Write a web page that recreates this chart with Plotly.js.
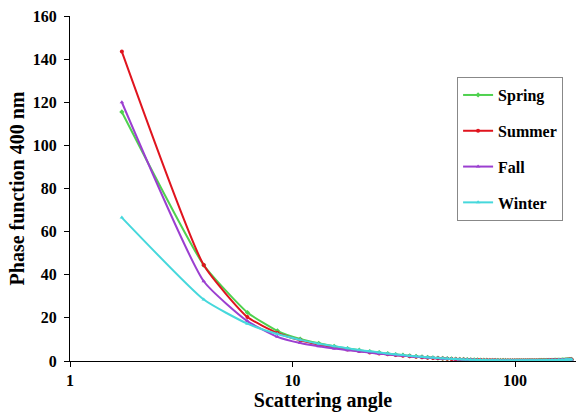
<!DOCTYPE html>
<html>
<head>
<meta charset="utf-8">
<script src="https://cdn.plot.ly/plotly-3.0.1.min.js"></script>
<style>html,body{margin:0;padding:0;background:#fff;}#chart{width:579px;height:412px;}</style>
</head>
<body>
<div id="chart"></div>
<script>
const angles = [
  1.71, 3.99, 6.27, 8.55, 10.83, 13.11, 15.39, 17.67, 19.95, 22.23,
  24.51, 26.79, 29.07, 31.35, 33.63, 35.91, 38.19, 40.47, 42.75, 45.03,
  47.31, 49.59, 51.87, 54.15, 56.43, 58.71, 60.99, 63.27, 65.55, 67.83,
  70.11, 72.39, 74.67, 76.95, 79.23, 81.51, 83.79, 86.07, 88.35, 90.63,
  92.91, 95.19, 97.47, 99.75, 102.03, 104.31, 106.59, 108.87, 111.15, 113.43,
  115.71, 117.99, 120.27, 122.55, 124.83, 127.11, 129.39, 131.67, 133.95, 136.23,
  138.51, 140.79, 143.07, 145.35, 147.63, 149.91, 152.19, 154.47, 156.75, 159.03,
  161.31, 163.59, 165.87, 168.15, 170.43, 172.71, 174.99, 177.27, 179.55
];
const spring = [
  115.5, 44.5, 22.5, 14.0, 10.2, 8.2, 6.8, 5.8, 5.0, 4.4,
  3.9, 3.4, 3.0, 2.7, 2.4, 2.1, 1.9, 1.7, 1.5, 1.35,
  1.2, 1.08, 0.97, 0.88, 0.8, 0.72, 0.65, 0.59, 0.54, 0.49,
  0.45, 0.41, 0.38, 0.35, 0.33, 0.31, 0.29, 0.27, 0.26, 0.25,
  0.24, 0.23, 0.22, 0.22, 0.21, 0.21, 0.21, 0.21, 0.21, 0.21,
  0.21, 0.22, 0.22, 0.23, 0.23, 0.24, 0.25, 0.26, 0.27, 0.28,
  0.29, 0.3, 0.31, 0.33, 0.34, 0.36, 0.38, 0.4, 0.42, 0.44,
  0.46, 0.49, 0.52, 0.55, 0.58, 0.62, 0.66, 0.7, 0.75
];
const summer = [
  143.5, 44.5, 20.4, 13.0, 9.6, 7.6, 6.3, 5.3, 4.6, 4.0,
  3.5, 3.1, 2.75, 2.45, 2.2, 1.95, 1.75, 1.55, 1.4, 1.25,
  1.12, 1.0, 0.9, 0.82, 0.74, 0.67, 0.61, 0.55, 0.5, 0.46,
  0.42, 0.39, 0.36, 0.33, 0.31, 0.29, 0.27, 0.26, 0.25, 0.24,
  0.23, 0.22, 0.21, 0.21, 0.2, 0.2, 0.2, 0.2, 0.2, 0.2,
  0.2, 0.21, 0.21, 0.22, 0.22, 0.23, 0.24, 0.25, 0.26, 0.27,
  0.28, 0.29, 0.3, 0.32, 0.33, 0.35, 0.37, 0.39, 0.41, 0.43,
  0.45, 0.48, 0.51, 0.54, 0.57, 0.61, 0.65, 0.69, 0.74
];
const fall = [
  120.0, 37.0, 18.5, 11.2, 8.3, 6.8, 5.8, 5.0, 4.4, 3.9,
  3.4, 3.0, 2.7, 2.4, 2.15, 1.9, 1.7, 1.52, 1.36, 1.22,
  1.1, 0.99, 0.89, 0.81, 0.73, 0.66, 0.6, 0.55, 0.5, 0.46,
  0.42, 0.39, 0.36, 0.33, 0.31, 0.29, 0.27, 0.26, 0.25, 0.24,
  0.23, 0.22, 0.21, 0.21, 0.2, 0.2, 0.2, 0.2, 0.2, 0.2,
  0.2, 0.21, 0.21, 0.22, 0.22, 0.23, 0.24, 0.25, 0.26, 0.27,
  0.28, 0.29, 0.3, 0.32, 0.33, 0.35, 0.37, 0.39, 0.41, 0.43,
  0.45, 0.48, 0.51, 0.54, 0.57, 0.61, 0.65, 0.69, 0.74
];
const winter = [
  66.5, 28.5, 17.3, 12.5, 9.8, 8.0, 6.8, 5.9, 5.1, 4.5,
  4.0, 3.5, 3.1, 2.75, 2.45, 2.2, 1.95, 1.75, 1.57, 1.4,
  1.25, 1.12, 1.0, 0.9, 0.82, 0.74, 0.67, 0.61, 0.56, 0.51,
  0.47, 0.43, 0.4, 0.37, 0.34, 0.32, 0.3, 0.28, 0.27, 0.26,
  0.25, 0.24, 0.23, 0.22, 0.22, 0.21, 0.21, 0.21, 0.21, 0.21,
  0.21, 0.22, 0.22, 0.23, 0.23, 0.24, 0.25, 0.26, 0.27, 0.28,
  0.29, 0.3, 0.31, 0.33, 0.34, 0.36, 0.38, 0.4, 0.42, 0.44,
  0.46, 0.49, 0.52, 0.55, 0.58, 0.62, 0.66, 0.7, 0.75
];
const seriesNames = ['Spring', 'Summer', 'Fall', 'Winter'];
const xTickVals = [1, 10, 100];
const xTickText = ['1', '10', '100'];

const colors = ['#4fd14f', '#e0141e', '#9b3fd0', '#46d8dc'];
const symbols = ['diamond', 'circle', 'triangle-up', 'triangle-up'];
const data = [spring, summer, fall, winter];
const fontFam = 'Liberation Serif, serif';

const traces = seriesNames.map((n, i) => ({
  x: angles, y: data[i], name: n, type: 'scatter', mode: 'lines+markers',
  legendgroup: n,
  line: {color: colors[i], width: 2, shape: 'spline', smoothing: 0.5},
  marker: {color: colors[i], symbol: symbols[i], size: 4}
}));

const layout = {
  width: 579, height: 412,
  margin: {l: 70, r: 3, t: 16, b: 51},
  paper_bgcolor: '#fff', plot_bgcolor: '#fff',
  font: {family: fontFam, color: '#000', size: 16, weight: 'bold'},
  showlegend: true,
  legend: {
    x: 0.765, y: 0.823, xanchor: 'left', yanchor: 'top',
    bordercolor: '#888', borderwidth: 1, bgcolor: '#fff',
    font: {family: fontFam, size: 16, weight: 'bold', color: '#000'},
    tracegroupgap: 12, itemwidth: 30
  },
  xaxis: {
    type: 'log', range: [0, 2.274],
    tickvals: xTickVals, ticktext: xTickText,
    ticks: 'outside', ticklen: 5, tickcolor: '#000',
    showline: true, linecolor: '#000', linewidth: 1,
    showgrid: false, zeroline: false,
    tickfont: {family: fontFam, size: 16, weight: 'bold', color: '#000'},
    title: {text: 'Scattering angle', font: {family: fontFam, size: 20, weight: 'bold', color: '#000'}, standoff: 7}
  },
  yaxis: {
    range: [0, 160], dtick: 20,
    ticks: 'outside', ticklen: 5, tickcolor: '#000',
    ticklabelstandoff: 4,
    showline: true, linecolor: '#000', linewidth: 1,
    showgrid: false, zeroline: false,
    tickfont: {family: fontFam, size: 16, weight: 'bold', color: '#000'},
    title: {text: 'Phase function 400 nm', font: {family: fontFam, size: 20, weight: 'bold', color: '#000'}, standoff: 2}
  }
};

Plotly.newPlot('chart', traces, layout, {staticPlot: true, displayModeBar: false});
</script>
</body>
</html>
